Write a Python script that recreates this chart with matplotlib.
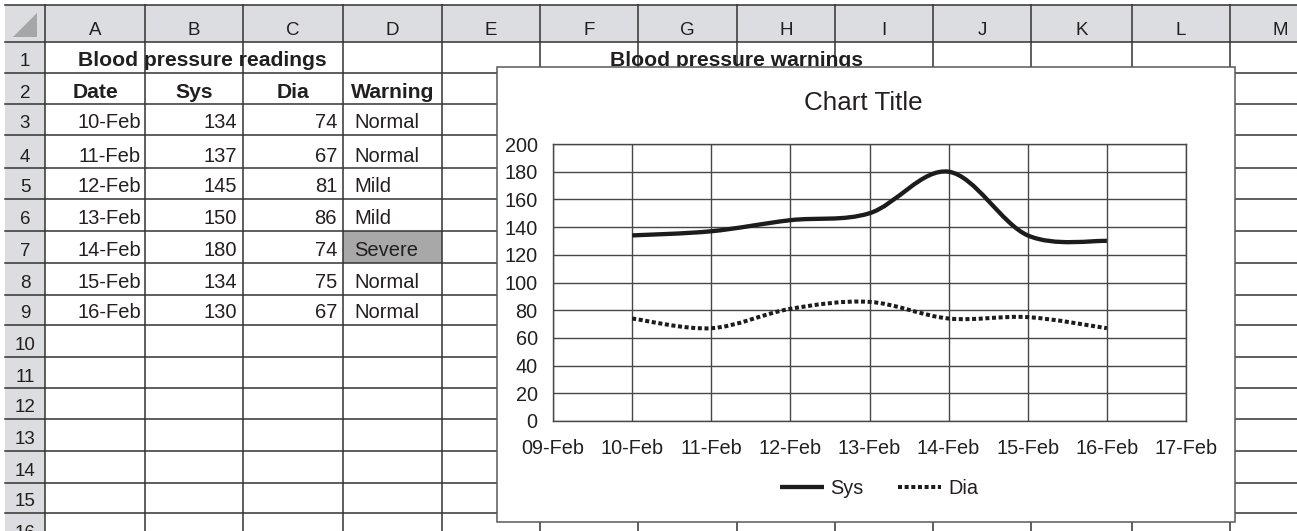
import numpy as np
import pandas as pd
import matplotlib
matplotlib.use('Agg')
import matplotlib.pyplot as plt
import matplotlib.dates as mdates
from matplotlib.path import Path
from matplotlib.patches import PathPatch, Rectangle, Polygon
from matplotlib.lines import Line2D

# sheet data
dates = ['10-Feb', '11-Feb', '12-Feb', '13-Feb', '14-Feb', '15-Feb', '16-Feb']
sys_vals = [134, 137, 145, 150, 180, 134, 130]
dia_vals = [74, 67, 81, 86, 74, 75, 67]
warnings = ['Normal', 'Normal', 'Mild', 'Mild', 'Severe', 'Normal', 'Normal']
headers = ['Date', 'Sys', 'Dia', 'Warning']
col_letters = ['A', 'B', 'C', 'D', 'E', 'F', 'G', 'H', 'I', 'J', 'K', 'L', 'M']
table_title = 'Blood pressure readings'
sheet_chart_title = 'Blood pressure warnings'
y_ticks = [0, 20, 40, 60, 80, 100, 120, 140, 160, 180, 200]

plt.rcParams['font.family'] = ['Liberation Sans', 'DejaVu Sans']
ink = '#231f20'
grid_col = '#333333'

W, H = 1297, 531
fig = plt.figure(figsize=(W / 100, H / 100), dpi=100)

# ---- spreadsheet background (pixel coordinates) ----
bg = fig.add_axes([0, 0, 1, 1], zorder=0)
bg.set_xlim(0, W)
bg.set_ylim(H, 0)
bg.axis('off')

col_x = [5, 45, 145, 243, 343, 442, 540, 638, 737, 835, 933, 1031, 1132, 1230, 1330]
row_y = [5, 42, 73, 104, 135, 168, 199, 231, 263, 295, 325, 357, 388, 419, 451, 483, 513, 545]

hdr_fill = '#dcdde0'
bg.add_patch(Rectangle((5, 5), W, 37, facecolor=hdr_fill, edgecolor='none', zorder=1))
bg.add_patch(Rectangle((5, 5), 40, H, facecolor=hdr_fill, edgecolor='none', zorder=1))
bg.add_patch(Polygon([(13, 37), (37, 37), (37, 13)], closed=True,
                     facecolor='#a5a6a8', edgecolor='none', zorder=2))

# severe cell fill
sev_row = warnings.index('Severe') + 3
bg.add_patch(Rectangle((col_x[4], row_y[sev_row]), col_x[5] - col_x[4],
                       row_y[sev_row + 1] - row_y[sev_row], facecolor='#a8a8a8',
                       edgecolor='none', zorder=1))

for y in row_y:
    bg.plot([5, W], [y, y], color=grid_col, lw=1.1, zorder=2)
for x in col_x[1:]:
    bg.plot([x, x], [5, H], color=grid_col, lw=1.1, zorder=2)

fs = 14.5
fs_bold = 15.2


def base(r):
    return row_y[r + 1] - 6.5


for i, c in enumerate(col_letters):
    bg.text((col_x[i + 1] + col_x[i + 2]) / 2, 35, c, ha='center', va='baseline',
            fontsize=13.5, color=ink, zorder=3)
for r in range(1, 17):
    bg.text(25, base(r), str(r), ha='center', va='baseline', fontsize=13.5, color=ink, zorder=3)

bg.text(202, base(1), table_title, ha='center', va='baseline', fontsize=fs_bold,
        fontweight='bold', color=ink, zorder=3)
bg.text(737, base(1), sheet_chart_title, ha='center', va='baseline', fontsize=fs_bold,
        fontweight='bold', color=ink, zorder=3)
for j, h in enumerate(headers):
    bg.text((col_x[j + 1] + col_x[j + 2]) / 2, base(2), h, ha='center', va='baseline',
            fontsize=fs_bold, fontweight='bold', color=ink, zorder=3)
for k in range(len(dates)):
    r = k + 3
    bg.text(col_x[2] - 4, base(r), dates[k], ha='right', va='baseline', fontsize=fs, color=ink, zorder=3)
    bg.text(col_x[3] - 6, base(r), str(sys_vals[k]), ha='right', va='baseline', fontsize=fs, color=ink, zorder=3)
    bg.text(col_x[4] - 6, base(r), str(dia_vals[k]), ha='right', va='baseline', fontsize=fs, color=ink, zorder=3)
    bg.text(col_x[4] + 11, base(r), warnings[k], ha='left', va='baseline', fontsize=fs, color=ink, zorder=3)

# chart frame
bg.add_patch(Rectangle((497, 67), 738, 455, facecolor='white', edgecolor='#595959',
                       lw=1.1, zorder=5))
bg.text(863, 110, 'Chart Title', ha='center', va='baseline', fontsize=18.7, color=ink, zorder=6)

# ---- embedded line chart ----
x = mdates.date2num(pd.to_datetime(dates, format='%d-%b'))


def smooth_path(xs, ys):
    pts = np.column_stack([xs, ys]).astype(float)
    ext = np.vstack([pts[0], pts, pts[-1]])
    verts = [pts[0]]
    codes = [Path.MOVETO]
    for i in range(len(pts) - 1):
        p0, p1, p2, p3 = ext[i], ext[i + 1], ext[i + 2], ext[i + 3]
        verts += [p1 + (p2 - p0) / 6, p2 - (p3 - p1) / 6, p2]
        codes += [Path.CURVE4] * 3
    return Path(verts, codes)


ax = fig.add_axes([553 / W, 1 - 421 / H, 633 / W, 277 / H], zorder=1)
ax.set_facecolor('white')
line_col = '#1c1c1c'
dots = (0, (1.0, 0.65))
ax.add_patch(PathPatch(smooth_path(x, sys_vals), fill=False, edgecolor=line_col,
                       lw=3.1, capstyle='butt', zorder=3))
ax.add_patch(PathPatch(smooth_path(x, dia_vals), fill=False, edgecolor=line_col,
                       lw=2.9, linestyle=dots, capstyle='butt', zorder=3))

ax.set_xlim(x[0] - 1, x[-1] + 1)
ax.set_ylim(0, 200)
ax.set_yticks(y_ticks)
ax.xaxis.set_major_locator(mdates.DayLocator())
ax.xaxis.set_major_formatter(mdates.DateFormatter('%d-%b'))
ax.grid(True, color='#474747', lw=1.0)
ax.set_axisbelow(True)
for s in ax.spines.values():
    s.set_color('#474747')
    s.set_linewidth(1.0)
ax.tick_params(axis='both', length=0, labelsize=14.3, labelcolor=ink)
ax.tick_params(axis='x', pad=13)
ax.tick_params(axis='y', pad=11)

handles = [Line2D([], [], color=line_col, lw=3.1, solid_capstyle='butt', label='Sys'),
           Line2D([], [], color=line_col, lw=2.9, linestyle=dots, dash_capstyle='butt', label='Dia')]
ax.legend(handles=handles, loc='center', bbox_to_anchor=(879 / W, 1 - 488 / H),
          bbox_transform=fig.transFigure, ncol=2, frameon=False, fontsize=14.3,
          handlelength=2.2, handletextpad=0.35, columnspacing=1.7, labelcolor=ink)

fig.savefig('out.png', dpi=100)
